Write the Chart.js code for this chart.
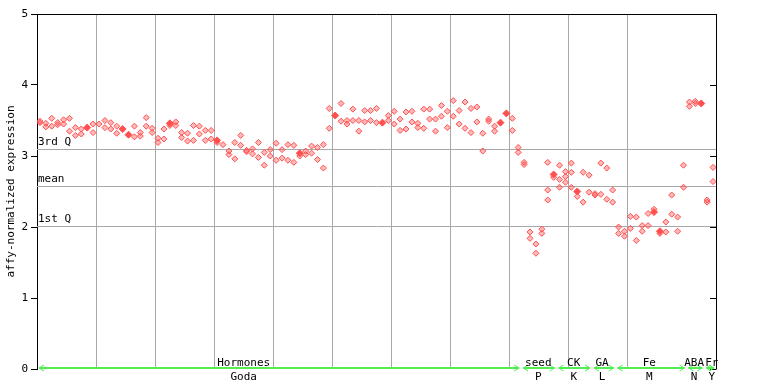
<!DOCTYPE html>
<html>
<head>
<meta charset="utf-8">
<script src="https://cdn.jsdelivr.net/npm/chart.js@4/dist/chart.umd.min.js"></script>
<style>
html,body{margin:0;padding:0;background:#fff;}
#c{display:block;}
</style>
</head>
<body>
<canvas id="c" width="768" height="384"></canvas>
<script>
// ---- data ----
const sampleCount = 115;
const rep1 = [3.49,3.46,3.53,3.47,3.51,3.53,3.40,3.38,3.40,3.45,
              3.45,3.50,3.47,3.42,3.38,3.30,3.42,3.33,3.54,3.39,
              3.25,3.38,3.46,3.48,3.33,3.32,3.43,3.42,3.36,3.36,
              3.22,3.16,3.07,3.19,3.29,3.08,3.10,3.19,3.05,3.09,
              3.18,3.09,3.16,3.15,3.04,3.07,3.14,3.12,3.16,3.67,
              3.57,3.74,3.50,3.66,3.50,3.64,3.64,3.67,3.47,3.57,
              3.63,3.52,3.62,3.63,3.46,3.66,3.66,3.52,3.71,3.63,
              3.78,3.64,3.76,3.67,3.69,3.32,3.52,3.42,3.47,3.60,
              3.53,3.12,2.91,1.93,1.76,1.97,2.91,2.74,2.87,2.78,
              2.90,2.50,2.77,2.73,2.47,2.90,2.83,2.52,2.00,1.94,
              2.15,2.14,2.02,2.19,2.21,1.94,2.07,2.45,2.14,2.87,
              3.76,3.77,3.74,2.38,2.84];
const rep2 = [3.47,3.41,3.42,3.44,3.45,3.35,3.29,3.31,null,3.33,
              null,3.40,3.38,3.32,null,null,3.27,3.28,3.42,3.33,
              3.19,3.24,3.43,3.43,3.26,3.21,3.22,3.31,3.22,3.24,
              3.19,null,3.02,2.96,3.15,3.06,3.03,2.98,2.87,3.00,
              2.94,2.97,2.94,2.91,3.00,3.02,3.04,2.95,2.83,3.39,
              null,3.49,3.45,3.50,3.35,3.48,3.50,3.47,null,3.50,
              3.45,3.36,3.38,3.48,3.40,3.39,3.52,3.35,3.56,3.40,
              3.56,3.45,3.39,3.33,3.48,3.07,3.49,3.35,null,null,
              3.36,3.05,2.88,1.84,1.63,1.91,2.52,2.70,2.67,2.71,
              2.77,2.43,2.35,2.49,2.45,2.46,2.39,2.35,1.91,1.87,
              1.98,1.81,1.94,2.02,2.25,1.91,1.93,2.18,1.94,2.56,
              3.70,3.74,null,2.35,2.64];
const rep3 = new Array(sampleCount).fill(null);
rep3[86] = 2.38; rep3[88] = 2.56; rep3[89] = 2.63; rep3[90] = 2.56;
const highlighted = [8,14,15,22,30,44,50,58,78,79,87,91,104,105,112];

const yTicks = [0,1,2,3,4,5];
const statValues = [3.10, 2.58, 2.01];
const statLabels = ['3rd Q', 'mean', '1st Q'];

const groupTop    = ['Hormones','seed','CK','GA','Fe','ABA','Fr'];
const groupBottom = ['Goda','P','K','L','M','N','Y'];
const groupStart  = [0, 82, 88, 94, 98, 110, 113];
const groupEnd    = [82, 88, 94, 98, 110, 113, 115];
const groupLabelAt = [35, 84.9, 90.9, 95.7, 103.7, 111.3, 114.3];

// ---- chart ----
const FONT = '"DejaVu Sans Mono", "Liberation Mono", monospace';
const RED = '#ff5050';
const toPts = (arr) => arr.map((v, i) => v == null ? null : {x: i + 0.5, y: v, s: i}).filter(p => p);

const mkDs = (arr, canFill) => ({
  data: toPts(arr),
  pointStyle: 'rectRot',
  borderWidth: 1,
  borderColor: RED,
  backgroundColor: (ctx) => {
    const p = ctx.raw;
    if (canFill && p && highlighted.includes(p.s)) return RED;
    return 'rgba(255,80,80,0.4)';
  },
  pointRadius: (ctx) => {
    const p = ctx.raw;
    return (canFill && p && highlighted.includes(p.s)) ? 3.5 : 3;
  }
});

const decor = {
  id: 'decor',
  beforeDatasetsDraw(chart) {
    const {ctx, chartArea: a, scales: {x, y}} = chart;
    ctx.save();
    ctx.strokeStyle = '#a8a8a8';
    ctx.lineWidth = 1;
    ctx.font = '11px ' + FONT;
    ctx.fillStyle = '#000';
    ctx.textAlign = 'left';
    ctx.textBaseline = 'middle';
    statValues.forEach((v, i) => {
      const py = Math.round(y.getPixelForValue(v)) + 0.5;
      ctx.beginPath(); ctx.moveTo(a.left, py); ctx.lineTo(a.right, py); ctx.stroke();
      ctx.fillText(statLabels[i], a.left + 1, py - 7);
    });
    ctx.restore();
  },
  afterDraw(chart) {
    const {ctx, chartArea: a, scales: {x, y}} = chart;
    ctx.save();
    // frame top and right
    ctx.strokeStyle = '#000';
    ctx.lineWidth = 1;
    ctx.beginPath();
    ctx.moveTo(a.left, a.top + 0.5); ctx.lineTo(a.right + 0.5, a.top + 0.5);
    ctx.moveTo(a.right + 0.5, a.top); ctx.lineTo(a.right + 0.5, a.bottom);
    yTicks.forEach(t => {
      const py = Math.round(y.getPixelForValue(t)) + 0.5;
      ctx.moveTo(a.right - 6, py); ctx.lineTo(a.right + 0.5, py);
    });
    ctx.stroke();
    // group arrows
    const gy = a.bottom - 1;
    ctx.strokeStyle = '#50ee50';
    ctx.lineWidth = 2;
    groupTop.forEach((t, i) => {
      const x1 = x.getPixelForValue(groupStart[i]) + 2;
      const x2 = x.getPixelForValue(groupEnd[i]) - 2;
      ctx.beginPath();
      ctx.moveTo(x1, gy); ctx.lineTo(x2, gy);
      ctx.stroke();
      ctx.lineWidth = 1;
      ctx.beginPath();
      ctx.moveTo(x1 + 5, gy - 3); ctx.lineTo(x1, gy); ctx.lineTo(x1 + 5, gy + 3);
      ctx.moveTo(x2 - 5, gy - 3); ctx.lineTo(x2, gy); ctx.lineTo(x2 - 5, gy + 3);
      ctx.stroke();
      ctx.lineWidth = 2;
    });
    ctx.font = '11px ' + FONT;
    ctx.fillStyle = '#000';
    ctx.textAlign = 'center';
    ctx.textBaseline = 'middle';
    groupTop.forEach((t, i) => {
      const cx = x.getPixelForValue(groupLabelAt[i]);
      ctx.fillText(t, cx, a.bottom - 6);
      ctx.fillText(groupBottom[i], cx, a.bottom + 8);
    });
    ctx.restore();
  }
};

new Chart(document.getElementById('c'), {
  type: 'scatter',
  data: { datasets: [mkDs(rep1, true), mkDs(rep2, false), mkDs(rep3, false)] },
  options: {
    responsive: false,
    animation: false,
    devicePixelRatio: 1,
    layout: { autoPadding: false, padding: { left: 0, right: 52, top: 14, bottom: 15 } },
    plugins: { legend: { display: false }, tooltip: { enabled: false } },
    scales: {
      x: {
        type: 'linear', min: 0, max: sampleCount,
        ticks: { display: false, stepSize: 10 },
        grid: { color: '#a8a8a8', drawTicks: false, lineWidth: 1 },
        border: { display: false },
        afterFit: (s) => { s.height = 0; }
      },
      y: {
        min: 0, max: 5,
        afterBuildTicks: (s) => { s.ticks = yTicks.map(v => ({value: v})); },
        ticks: { color: '#000', padding: 3, font: { family: FONT, size: 11 } },
        grid: { drawOnChartArea: false, color: '#000', tickLength: 6 },
        border: { display: true, color: '#000' },
        title: { display: true, text: 'affy-normalized expression', color: '#000',
                 font: { family: FONT, size: 11 }, padding: { top: 5, bottom: 0 } },
        afterFit: (s) => { s.width = 37; }
      }
    }
  },
  plugins: [decor]
});
</script>
</body>
</html>
